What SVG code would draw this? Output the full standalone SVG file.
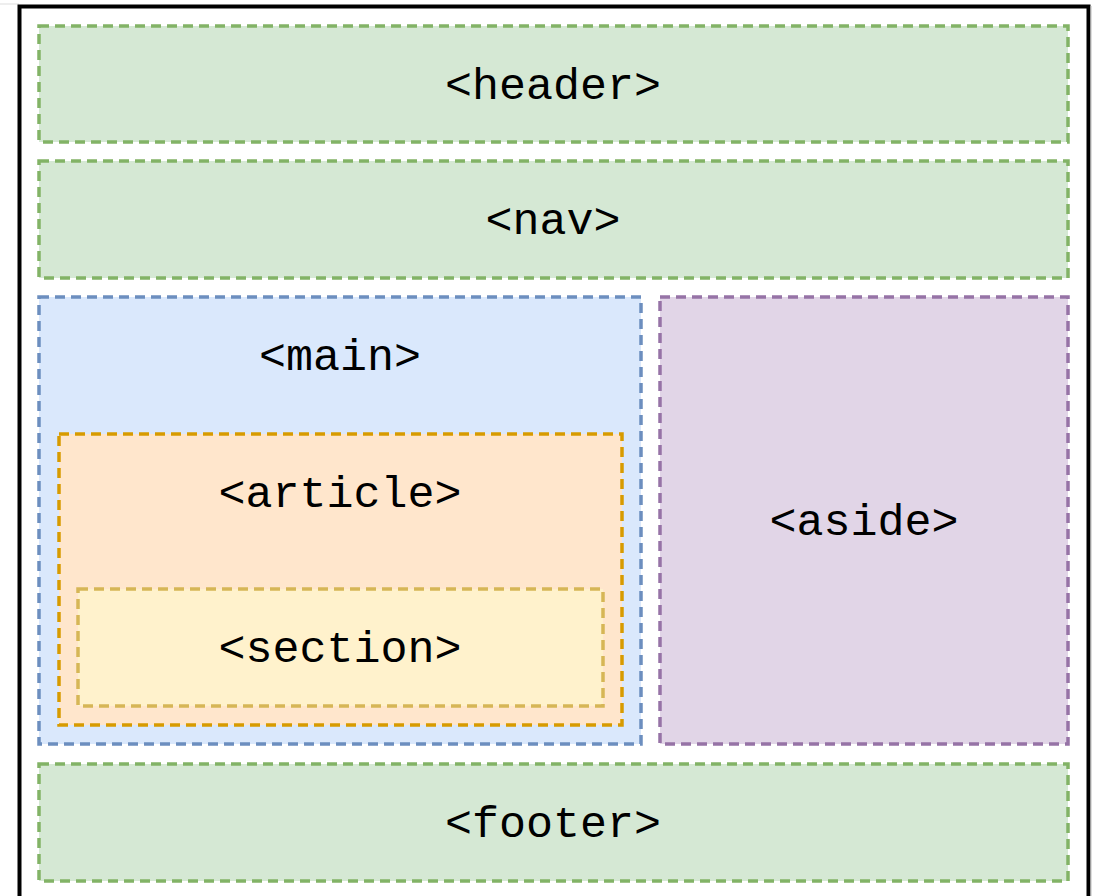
<svg xmlns="http://www.w3.org/2000/svg" width="1097" height="896" viewBox="0 0 1097 896">
<style>
.b{stroke-width:3.5;stroke-dasharray:10 6}
.g{fill:#d5e8d4;stroke:#82b366}
.bl{fill:#dae8fc;stroke:#6c8ebf}
.o{fill:#ffe6cc;stroke:#d79b00}
.y{fill:#fff2cc;stroke:#d6b656}
.p{fill:#e1d5e7;stroke:#9673a6}
text{font-family:"Liberation Mono","Courier New",monospace;font-size:45px;fill:#000;text-anchor:middle}
</style>
<rect width="1097" height="896" fill="#fff"/>
<line x1="0" y1="4" x2="19" y2="4" stroke="#ddd" stroke-width="1"/>
<path d="M19.5 900 V6.5 H1088.5 V900" fill="none" stroke="#000" stroke-width="4"/>
<line x1="1091" y1="6" x2="1091" y2="896" stroke="#bbb" stroke-width="1"/>
<g id="header"><rect class="b g" x="39" y="26" width="1029" height="116"/><text x="553" y="99">&lt;header&gt;</text></g>
<g id="nav"><rect class="b g" x="39" y="161" width="1029" height="117"/><text x="553" y="234">&lt;nav&gt;</text></g>
<g id="main"><rect class="b bl" x="39" y="297" width="602" height="447"/><text x="340" y="370">&lt;main&gt;</text></g>
<g id="article"><rect class="b o" x="59" y="434" width="563" height="291"/><text x="340" y="507">&lt;article&gt;</text></g>
<g id="section"><rect class="b y" x="78" y="589" width="525" height="117"/><text x="340" y="662">&lt;section&gt;</text></g>
<g id="aside"><rect class="b p" x="660" y="297" width="408" height="447"/><text x="864" y="535">&lt;aside&gt;</text></g>
<g id="footer"><rect class="b g" x="39" y="764" width="1029" height="117"/><text x="553" y="837">&lt;footer&gt;</text></g>
<g id="connectors"/>
</svg>
